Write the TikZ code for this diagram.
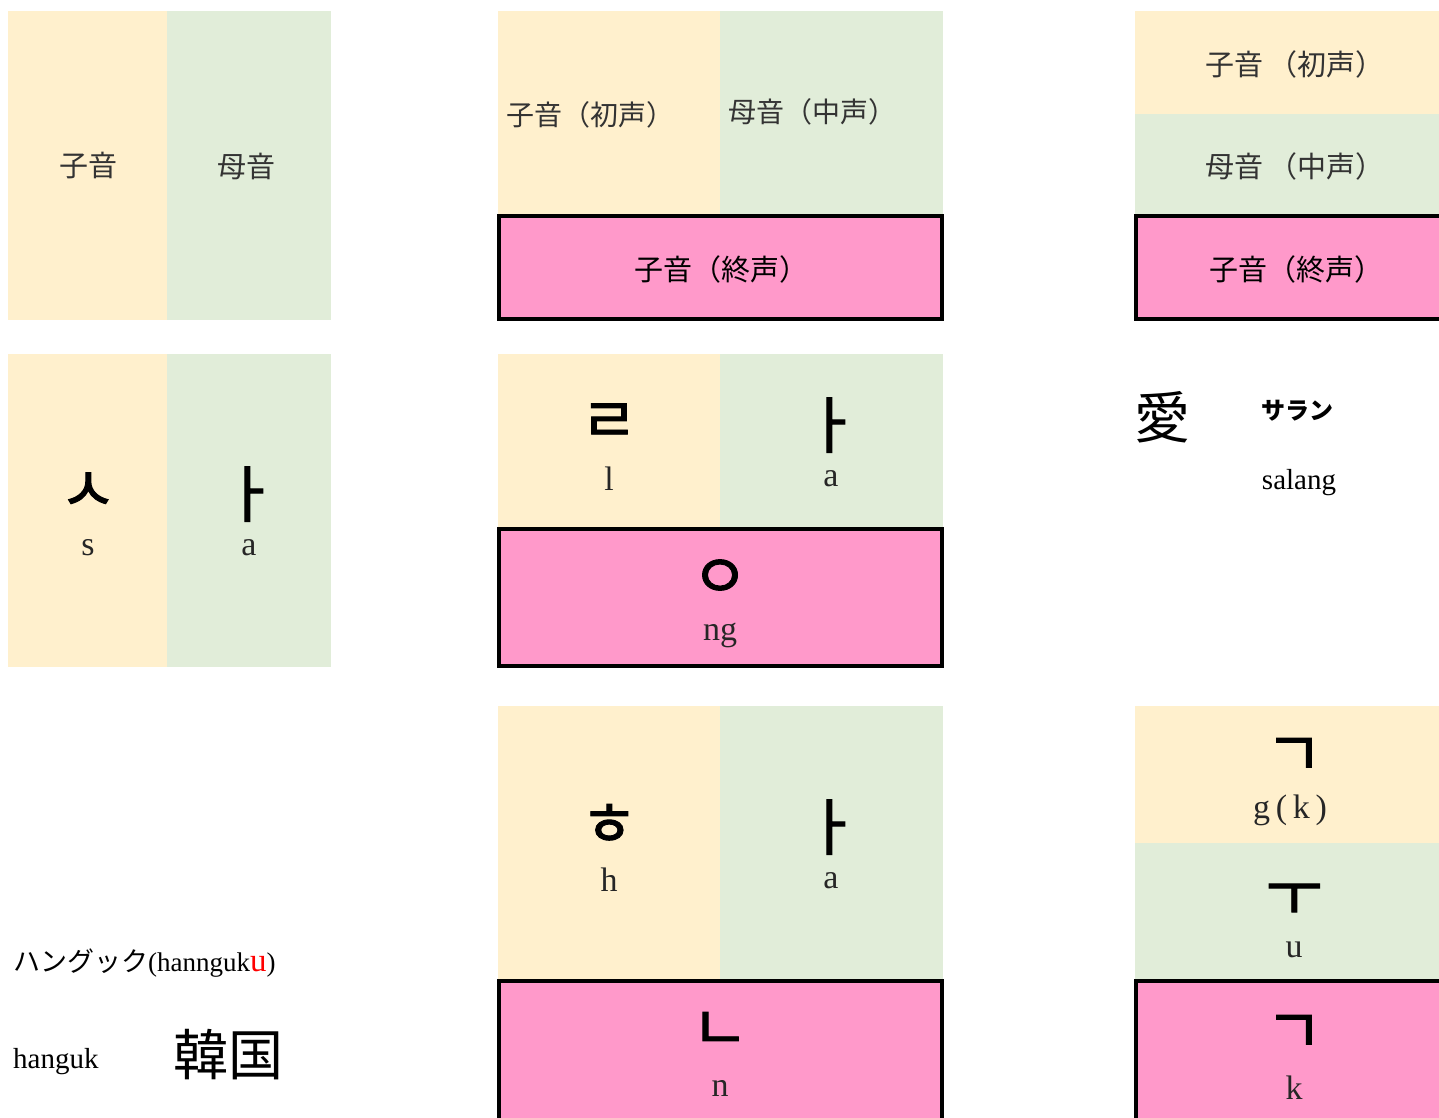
\documentclass[tikz,border=0pt]{standalone}
\usepackage{fontspec}
\setmainfont{Liberation Serif}
\newfontfamily\jp{Noto Sans CJK JP}
\newfontfamily\kr{Noto Sans CJK KR}[FakeBold=1.5]
\definecolor{yel}{HTML}{FFF0CD}
\definecolor{grn}{HTML}{E1EDD9}
\definecolor{pnk}{HTML}{FF99CA}
\begin{document}
\begin{tikzpicture}[x=1pt,y=-1pt,
  yelbox/.style={fill=yel,draw=none},
  grnbox/.style={fill=grn,draw=none},
  pnkbox/.style={fill=pnk,draw=black,line width=3.2pt},
  lab/.style={font=\jp\fontsize{29}{34}\selectfont,text=black!80,inner sep=0pt},
  lab2/.style={font=\jp\fontsize{28}{32}\selectfont,text=black!80,inner sep=0pt},
  plab/.style={font=\jp\fontsize{29}{33}\selectfont,text=black,inner sep=0pt},
  jamo/.style={font=\kr\fontsize{62}{66}\selectfont,inner sep=0pt},
  rom/.style={font=\fontsize{34}{38}\selectfont,text=black!85,inner sep=0pt},
]
\useasboundingbox (0,0) rectangle (1439,1118);
\clip (0,0) rectangle (1439,1118);
% ---- row 1 ----
\fill[yelbox] (8,11) rectangle (167,320);
\fill[grnbox] (167,11) rectangle (331,320);
\node[lab] (c1) at (88,166) {子音};
\node[lab] (v1) at (246,166) {母音};

\fill[yelbox] (498,11) rectangle (720,215);
\fill[grnbox] (720,11) rectangle (943,215);
\draw[pnkbox] (499,216) rectangle (942,319);
\node[lab2,anchor=west] (c2) at (506,115) {子音（初声）};
\node[lab2,anchor=west] (v2) at (728,112) {母音（中声）};
\node[plab] (f2) at (721,269) {子音（終声）};

\fill[yelbox] (1135,11) rectangle (1445,114);
\fill[grnbox] (1135,114) rectangle (1445,215);
\draw[pnkbox] (1136,216) rectangle (1450,319);
\node[lab] (c3) at (1295,64) {子音\,（初声）};
\node[lab] (v3) at (1295,166) {母音\,（中声）};
\node[plab] (f3) at (1296,269) {子音（終声）};

% ---- row 2 ----
\fill[yelbox] (8,354) rectangle (167,667);
\fill[grnbox] (167,354) rectangle (331,667);
\node[jamo] (s1) at (88,492) {ㅅ};
\node[rom] (s1r) at (88,548) {s};
\node[jamo] (a1) at (249,494) {ㅏ};
\node[rom] (a1r) at (249,548) {a};

\fill[yelbox] (498,354) rectangle (720,528);
\fill[grnbox] (720,354) rectangle (943,528);
\draw[pnkbox] (499,529) rectangle (942,666);
\node[jamo] (l2) at (609,423) {ㄹ};
\node[rom] (l2r) at (609,479) {l};
\node[jamo] (a2) at (831,425) {ㅏ};
\node[rom] (a2r) at (831,479) {a};
\node[jamo] (ng2) at (720,579) {ㅇ};
\node[rom] (ng2r) at (720,635) {ng};

\node[font=\jp\fontsize{56}{60}\selectfont,inner sep=0pt] (ai) at (1162,417) {愛};
\node[font=\jp\bfseries\fontsize{24}{28}\selectfont,inner sep=0pt] (sarang) at (1297,411) {サラン};
\node[font=\fontsize{29}{32}\selectfont,inner sep=0pt] (salang) at (1299,483) {salang};

% ---- row 3 ----
\fill[yelbox] (498,706) rectangle (720,980);
\fill[grnbox] (720,706) rectangle (943,980);
\draw[pnkbox] (499,981) rectangle (942,1130);
\node[jamo] (h3) at (609,825) {ㅎ};
\node[rom] (h3r) at (609,880) {h};
\node[jamo] (a3) at (831,827) {ㅏ};
\node[rom] (a3r) at (831,881) {a};
\node[jamo] (n3) at (720,1031) {ㄴ};
\node[rom] (n3r) at (720,1088) {n};

\fill[yelbox] (1135,706) rectangle (1445,843);
\fill[grnbox] (1135,843) rectangle (1445,980);
\draw[pnkbox] (1136,981) rectangle (1450,1130);
\node[jamo] (g4) at (1294,757) {ㄱ};
\node[rom] (g4r) at (1290,810) {g\,(\,k\,)};
\node[jamo] (u4) at (1294,900) {ㅜ};
\node[rom] (u4r) at (1294,950) {u};
\node[jamo] (k4) at (1294,1034) {ㄱ};
\node[rom] (k4r) at (1294,1088) {k};

% ---- bottom left ----
\node[anchor=west,inner sep=0pt,font=\fontsize{27}{30}\selectfont] (hang1) at (13,963)
  {{\jp ハングック}(hannguk{\color{red}\fontsize{33}{34}\selectfont u})};
\node[anchor=west,inner sep=0pt,font=\fontsize{29}{32}\selectfont] (hang2) at (13,1062) {hanguk};
\node[anchor=west,inner sep=0pt,font=\jp\fontsize{55}{60}\selectfont] (kankoku) at (173,1055) {韓国};
\end{tikzpicture}
\end{document}
